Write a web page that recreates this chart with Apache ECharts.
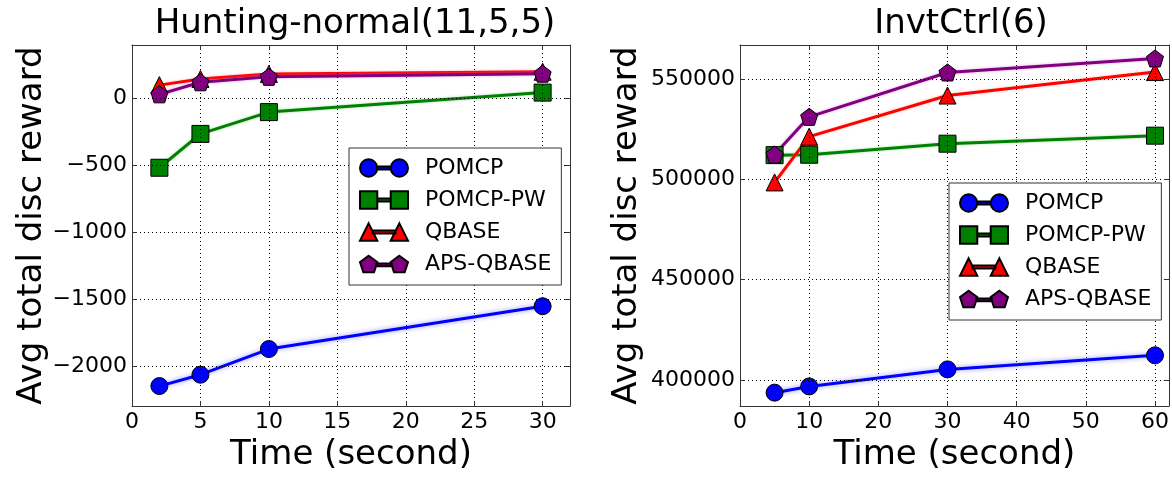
<!DOCTYPE html>
<html><head><meta charset="utf-8">
<script src="https://cdn.jsdelivr.net/npm/echarts@6/dist/echarts.min.js"></script>
<style>html,body{margin:0;padding:0;background:#fff}#c{width:1172px;height:477px}</style>
</head><body><div id="c"></div><script>
const seriesNames = ['POMCP', 'POMCP-PW', 'QBASE', 'APS-QBASE'];
const titles = ['Hunting-normal(11,5,5)', 'InvtCtrl(6)'];
const xName = 'Time (second)';
const yName = 'Avg total disc reward';

const huntTimes = [2, 5, 10, 30];
const huntPOMCP = [-2151, -2066, -1874, -1554];
const huntPW = [-518, -265, -102, 44];
const huntQBASE = [100, 146, 184, 200];
const huntAPS = [31, 121, 162, 185];
const huntXTicks = [0, 5, 10, 15, 20, 25, 30];
const huntYTicks = [-2000, -1500, -1000, -500, 0];

const invtTimes = [5, 10, 30, 60];
const invtPOMCP = [393700, 396800, 405300, 412300];
const invtPW = [512100, 512300, 517800, 521800];
const invtQBASE = [498500, 521300, 541800, 553500];
const invtAPS = [512400, 531200, 553300, 560300];
const invtXTicks = [0, 10, 20, 30, 40, 50, 60];
const invtYTicks = [400000, 450000, 500000, 550000];

const FONT = 'DejaVu Sans';
const colors = ['#0000ff', '#008000', '#ff0000', '#800080'];
const bands = ['rgba(150,150,255,1)', 'rgba(120,200,120,0.6)', 'rgba(255,150,150,0.6)', 'rgba(200,120,200,0.6)'];
const symbols = ['circle', 'rect', 'triangle',
  'path://M0,-1L0.951,-0.309L0.588,0.809L-0.588,0.809L-0.951,-0.309Z'];
const legendIcons = [
  'path://M1,10A9,9,0,1,1,19,10A9,9,0,1,1,1,10ZM33,10A9,9,0,1,1,51,10A9,9,0,1,1,33,10ZM19,8.5L33,8.5L33,11.5L19,11.5Z',
  'path://M1,1L19,1L19,19L1,19ZM33,1L51,1L51,19L33,19ZM19,8.5L33,8.5L33,11.5L19,11.5Z',
  'path://M10,1L19,19L1,19ZM42,1L51,19L33,19ZM14,8.5L38,8.5L38,11.5L14,11.5Z',
  'path://M10,0.5L19.03,7.06L15.58,17.69L4.42,17.69L0.97,7.06ZM42,0.5L51.03,7.06L47.58,17.69L36.42,17.69L32.97,7.06ZM18,8.5L34,8.5L34,11.5L18,11.5Z'
];

const fmt = v => String(v).replace('-', '\u2212');

function axis(gridIndex, position, min, max, ticks, primary, name, nameGap) {
  return {
    type: 'value', gridIndex, position, min, max, z: 3,
    axisLine: { show: true, onZero: false, lineStyle: { color: '#333', width: 1 } },
    axisTick: { show: true, inside: true, length: 5, customValues: ticks, lineStyle: { color: '#333' } },
    axisLabel: { show: primary, customValues: ticks, formatter: fmt, fontFamily: FONT, fontSize: 22, color: '#000', margin: 5 },
    splitLine: { show: primary, lineStyle: { color: '#000', type: [1, 3], width: 1 } },
    name: primary ? name : '', nameLocation: 'middle', nameGap,
    nameTextStyle: { fontFamily: FONT, fontSize: 34, color: '#000' }
  };
}

function mk(vals, times, i, g) {
  return {
    type: 'line', name: seriesNames[i], xAxisIndex: g * 2, yAxisIndex: g * 2,
    data: times.map((t, k) => [t, vals[k]]),
    symbol: symbols[i], symbolSize: 17,
    lineStyle: { color: colors[i], width: 3, shadowColor: bands[i], shadowBlur: i === 0 ? 5 : 3 },
    itemStyle: { color: colors[i], borderColor: '#000', borderWidth: 1, opacity: 1 },
    emphasis: { disabled: true }, z: 2, clip: false
  };
}

function legend(left, top) {
  return {
    left, top, orient: 'vertical', itemWidth: 48, itemHeight: 18, itemGap: 10,
    padding: [9, 10, 10, 10], backgroundColor: '#fff', borderColor: '#333', borderWidth: 1, borderRadius: 0,
    textStyle: { fontFamily: FONT, fontSize: 22, color: '#000', padding: [0, 0, 0, 12] },
    data: seriesNames.map((n, i) => ({ name: n, icon: legendIcons[i] })),
    selectedMode: false, z: 4
  };
}

const chart = echarts.init(document.getElementById('c'), null, { renderer: 'canvas' });
chart.setOption({
  animation: false,
  backgroundColor: '#fff',
  title: [
    { text: titles[0], left: 350, top: 2, textAlign: 'center', textStyle: { fontFamily: FONT, fontSize: 34, fontWeight: 'normal', color: '#000' } },
    { text: titles[1], left: 956, top: 2, textAlign: 'center', textStyle: { fontFamily: FONT, fontSize: 34, fontWeight: 'normal', color: '#000' } }
  ],
  grid: [
    { left: 132, top: 45, width: 438, height: 370 },
    { left: 740, top: 45, width: 431, height: 372 }
  ],
  xAxis: [
    axis(0, 'bottom', 0, 32, huntXTicks, true, xName, 32),
    axis(0, 'top', 0, 32, huntXTicks, false, '', 0),
    axis(1, 'bottom', 0, 62, invtXTicks, true, xName, 30),
    axis(1, 'top', 0, 62, invtXTicks, false, '', 0)
  ],
  yAxis: [
    axis(0, 'left', -2300, 400, huntYTicks, true, yName, 80),
    axis(0, 'right', -2300, 400, huntYTicks, false, '', 0),
    axis(1, 'left', 387000, 567000, invtYTicks, true, yName, 96),
    axis(1, 'right', 387000, 567000, invtYTicks, false, '', 0)
  ],
  legend: [legend(349, 148), legend(949, 183)],
  series: [
    mk(huntPOMCP, huntTimes, 0, 0), mk(huntPW, huntTimes, 1, 0), mk(huntQBASE, huntTimes, 2, 0), mk(huntAPS, huntTimes, 3, 0),
    mk(invtPOMCP, invtTimes, 0, 1), mk(invtPW, invtTimes, 1, 1), mk(invtQBASE, invtTimes, 2, 1), mk(invtAPS, invtTimes, 3, 1)
  ]
});
</script></body></html>
